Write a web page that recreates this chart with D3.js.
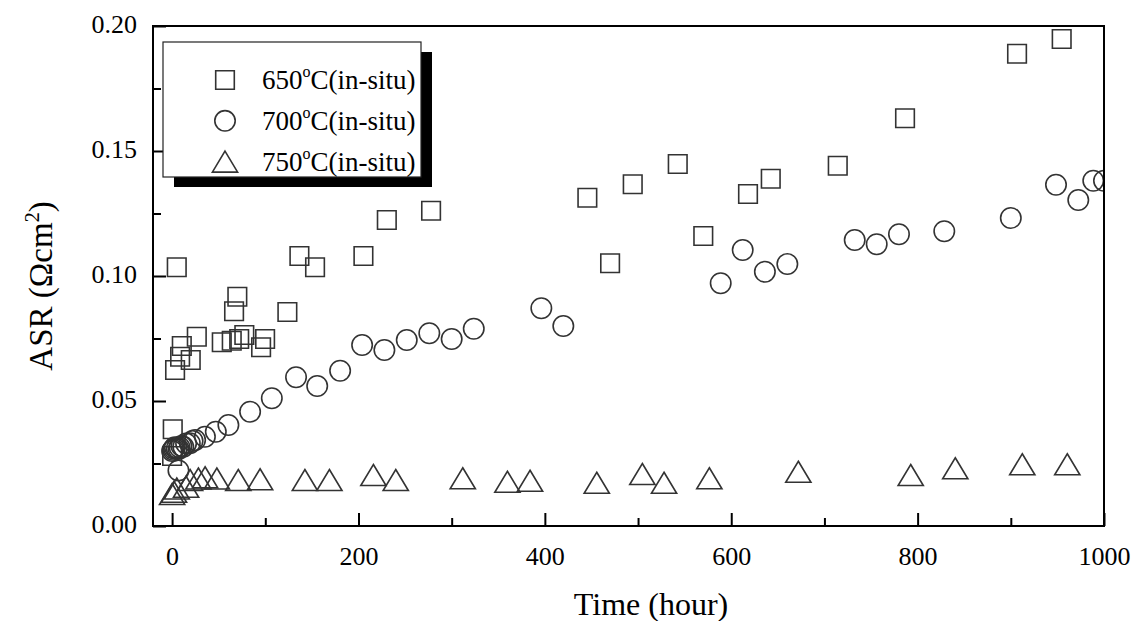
<!DOCTYPE html>
<html>
<head>
<meta charset="utf-8">
<script src="https://cdn.jsdelivr.net/npm/d3@7"></script>
<style>
  html, body { margin: 0; padding: 0; background: #fff; }
  svg { display: block; font-family: "Liberation Serif", "Times New Roman", serif; }
</style>
</head>
<body>
<svg id="chart" width="1134" height="621"></svg>
<script>
// ASR vs. time for in-situ cells at three operating temperatures
const hours650 = [0, 0.7, 3.2, 5, 8.6, 10.4, 20, 26.5, 53.3, 64, 66.5, 70, 72, 77.5, 95.5, 99.8,
  123.7, 136.6, 153.4, 205.3, 230.4, 277.9, 445.6, 470, 494.3, 542.6, 570, 618, 642.4, 714.3,
  786.5, 906.7, 954.6];
const asr650 = [0.028, 0.0387, 0.0624, 0.1035, 0.0677, 0.072, 0.0664, 0.0757, 0.0735, 0.0741,
  0.0859, 0.0917, 0.0748, 0.0764, 0.0715, 0.0748, 0.0856, 0.108, 0.1035, 0.108, 0.1224, 0.1261,
  0.1313, 0.1051, 0.1367, 0.1448, 0.116, 0.1328, 0.1389, 0.1441, 0.1631, 0.1889, 0.1948];

const hours700 = [0, 1, 2, 3, 5, 6.8, 7, 8, 10, 12, 15, 19, 22, 24.7, 35.2, 46.9, 60.4, 83.7,
  107, 133, 155.7, 180.3, 203.9, 227.8, 251.8, 276, 300, 323.7, 396.2, 419.8, 588.7, 612.3,
  636.1, 660.2, 732.5, 756.1, 780, 828.6, 900, 948.5, 972.4, 988.5, 1000];
const asr700 = [0.030, 0.0305, 0.031, 0.0315, 0.031, 0.0222, 0.0308, 0.0315, 0.032, 0.0317,
  0.033, 0.0331, 0.034, 0.0344, 0.0357, 0.0377, 0.0404, 0.0457, 0.0511, 0.0595, 0.056, 0.0621,
  0.0724, 0.0704, 0.0744, 0.0771, 0.0748, 0.0789, 0.0871, 0.080, 0.0971, 0.1104, 0.1017, 0.1048,
  0.1144, 0.1127, 0.1167, 0.1179, 0.1232, 0.1365, 0.1304, 0.1381, 0.1381];

const hours750 = [0, 2, 5, 15, 19.3, 28.2, 35.4, 48, 71, 94.4, 142.5, 168.8, 216, 240, 311.9,
  359.8, 384.1, 455.7, 504.6, 527.9, 576.5, 672, 792.6, 840.4, 912.3, 960.6];
const asr750 = [0.0128, 0.0137, 0.015, 0.0157, 0.0184, 0.019, 0.0195, 0.019, 0.0184, 0.0187,
  0.0184, 0.0184, 0.0204, 0.0184, 0.0191, 0.0177, 0.0181, 0.0173, 0.0208, 0.0173, 0.0191, 0.0217,
  0.0204, 0.0231, 0.0247, 0.0247];

const xTicks = [0, 200, 400, 600, 800, 1000];
const xMinorTicks = [100, 300, 500, 700, 900];
const yTicks = [0, 0.05, 0.10, 0.15, 0.20];
const yMinorTicks = [0.025, 0.075, 0.125, 0.175];
const legendLabels = ["650", "700", "750"];

const svg = d3.select("#chart");
const plotLeft = 153, plotRight = 1104, plotTop = 26, plotBottom = 526;

const x = d3.scaleLinear().domain([-20.5, 1000]).range([plotLeft, plotRight]);
const y = d3.scaleLinear().domain([0, 0.2]).range([plotBottom, plotTop]);

const ink = "#000";
const markStroke = "#333";

// marker outlines
const cp = d3.path(); cp.arc(0, 0, 10.2, 0, 2 * Math.PI); cp.closePath();
const symbolPath = {
  square: "M-9.3,-9.3H9.3V9.3H-9.3Z",
  circle: cp.toString(),
  triangle: "M0,-10.5L12.6,10.5L-12.6,10.5Z"
};
const shapes = ["square", "circle", "triangle"];

// clip for data marks
svg.append("defs").append("clipPath").attr("id", "plotClip")
  .append("rect").attr("x", plotLeft).attr("y", plotTop)
  .attr("width", plotRight - plotLeft).attr("height", plotBottom - plotTop);

// axes (ticks inward)
const xAxis = d3.axisBottom(x).tickValues(xTicks).tickSize(-13).tickPadding(21).tickFormat(d3.format("d"));
const xAxisMinor = d3.axisBottom(x).tickValues(xMinorTicks).tickSize(-8).tickFormat("");
const yAxis = d3.axisLeft(y).tickValues(yTicks).tickSize(-13).tickPadding(16).tickFormat(d3.format(".2f"));
const yAxisMinor = d3.axisLeft(y).tickValues(yMinorTicks).tickSize(-8).tickFormat("");

function styleAxis(g) {
  g.select(".domain").remove();
  g.selectAll(".tick line").attr("stroke", ink).attr("stroke-width", 2);
  g.selectAll(".tick text").attr("fill", ink)
    .style("font-family", "'Liberation Serif', 'Times New Roman', serif")
    .style("font-size", "26px");
}

svg.append("g").attr("transform", `translate(0,${plotBottom})`).call(xAxis).call(styleAxis);
svg.append("g").attr("transform", `translate(0,${plotBottom})`).call(xAxisMinor).call(styleAxis);
const yAxisG = svg.append("g").attr("transform", `translate(${plotLeft},0)`).call(yAxis).call(styleAxis);
yAxisG.selectAll(".tick text").attr("dy", "0.25em");
svg.append("g").attr("transform", `translate(${plotLeft},0)`).call(yAxisMinor).call(styleAxis);

// data markers
const seriesData = [
  hours650.map((h, i) => ({ h, v: asr650[i] })),
  hours700.map((h, i) => ({ h, v: asr700[i] })),
  hours750.map((h, i) => ({ h, v: asr750[i] }))
];

const marks = svg.append("g").attr("clip-path", "url(#plotClip)");
seriesData.forEach((pts, si) => {
  marks.append("g").selectAll("path").data(pts).join("path")
    .attr("d", symbolPath[shapes[si]])
    .attr("transform", d => `translate(${x(d.h)},${y(d.v)})`)
    .attr("fill", "none")
    .attr("stroke", markStroke)
    .attr("stroke-width", 1.6);
});

// frame
svg.append("rect").attr("x", plotLeft).attr("y", plotTop)
  .attr("width", plotRight - plotLeft).attr("height", plotBottom - plotTop)
  .attr("fill", "none").attr("stroke", ink).attr("stroke-width", 2);

// legend with drop shadow
const lg = svg.append("g");
const lx = 163, ly = 42, lw = 258, lh = 135;
lg.append("rect").attr("x", lx + 11).attr("y", ly + 10).attr("width", lw).attr("height", lh).attr("fill", "#000");
lg.append("rect").attr("x", lx).attr("y", ly).attr("width", lw).attr("height", lh)
  .attr("fill", "#fff").attr("stroke", "#222").attr("stroke-width", 1.2);

legendLabels.forEach((lab, i) => {
  const cy = 80 + i * 40.8;
  lg.append("path").attr("d", symbolPath[shapes[i]])
    .attr("transform", `translate(225,${cy})`)
    .attr("fill", "none").attr("stroke", markStroke).attr("stroke-width", 1.6);
  const t = lg.append("text").attr("x", 262).attr("y", cy + 9)
    .attr("fill", ink).style("font-size", "27px");
  t.append("tspan").text(lab);
  t.append("tspan").attr("dy", -12).style("font-size", "16px").text("o");
  t.append("tspan").attr("dy", 12).text("C(in-situ)");
});

// axis titles
svg.append("text").attr("x", 651).attr("y", 615)
  .attr("text-anchor", "middle").attr("fill", ink).style("font-size", "32px")
  .text("Time (hour)");

const yt = svg.append("text")
  .attr("transform", "translate(52,286) rotate(-90)")
  .attr("text-anchor", "middle").attr("fill", ink).style("font-size", "33px");
yt.append("tspan").text("ASR (\u03A9cm");
yt.append("tspan").attr("dy", -13).style("font-size", "20px").text("2");
yt.append("tspan").attr("dy", 13).text(")");
</script>
</body>
</html>
